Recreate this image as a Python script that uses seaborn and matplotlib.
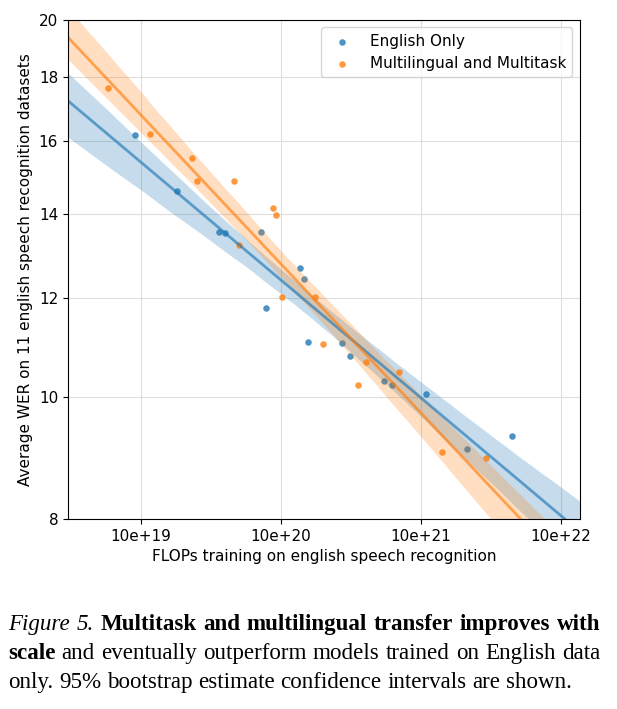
import numpy as np
import pandas as pd
import seaborn as sns
from matplotlib import pyplot as plt

# values (FLOPs, average WER)
flops_en = [9.1e18, 1.81e19, 3.6e19, 3.95e19, 7.2e19, 7.8e19, 1.37e20, 1.46e20,
            1.56e20, 2.73e20, 3.11e20, 5.44e20, 6.2e20, 1.09e21, 2.13e21, 4.47e21]
wer_en = [16.19, 14.62, 13.55, 13.52, 13.55, 11.78, 12.68, 12.43,
          11.07, 11.06, 10.79, 10.31, 10.24, 10.07, 9.10, 9.32]
flops_ml = [5.8e18, 1.16e19, 2.31e19, 2.51e19, 4.61e19, 5.0e19, 8.77e19, 9.2e19,
            1.02e20, 1.75e20, 2.0e20, 3.53e20, 4.03e20, 7.0e20, 1.41e21, 2.9e21]
wer_ml = [17.66, 16.22, 15.52, 14.89, 14.89, 13.23, 14.16, 13.98,
          12.03, 12.03, 11.03, 10.24, 10.67, 10.48, 9.04, 8.94]

xticks = [19, 20, 21, 22]
xticklabels = ['10e+19', '10e+20', '10e+21', '10e+22']
yticks = [8, 10, 12, 14, 16, 18, 20]

df = pd.concat([
    pd.DataFrame({'flops': flops_en, 'wer': wer_en, 'model': 'English Only'}),
    pd.DataFrame({'flops': flops_ml, 'wer': wer_ml, 'model': 'Multilingual and Multitask'}),
])
df['lx'] = np.log10(df['flops'])
df['ly'] = np.log10(df['wer'])

fig = plt.figure(figsize=(6.17, 7.09), dpi=100)
ax = fig.add_axes([0.110, 0.268, 0.830, 0.704])
ax.set_xlim(np.log10(3.0e18), np.log10(1.37e22))
ax.set_ylim(np.log10(8), np.log10(20))

colors = {'English Only': '#1f77b4', 'Multilingual and Multitask': '#ff7f0e'}
np.random.seed(0)
for name, sub in df.groupby('model', sort=False):
    sns.regplot(data=sub, x='lx', y='ly', ax=ax, truncate=False, ci=95, n_boot=1000,
                color=colors[name], label=name,
                scatter_kws={'s': 22, 'alpha': 0.8, 'linewidths': 0},
                line_kws={'alpha': 0.65, 'lw': 2})
# seaborn's default band is quite faint, the reference is stronger
for coll in ax.collections:
    if coll.__class__.__name__ != 'PathCollection':
        coll.set_alpha(0.25)

ax.set_xticks(xticks)
ax.set_xticklabels(xticklabels, fontsize=11)
ax.set_yticks(np.log10(yticks))
ax.set_yticklabels([str(v) for v in yticks], fontsize=11)
ax.grid(True, color='#dddddd', lw=0.8)
ax.set_axisbelow(True)
ax.set_xlabel('FLOPs training on english speech recognition', fontsize=11)
ax.set_ylabel('Average WER on 11 english speech recognition datasets', fontsize=11)
ax.legend(loc='upper right', fontsize=11)

# caption in a serif face, justified word by word
serif = 'Liberation Serif'
fsize = 16.6
lines = [
    ([('Figure', 'italic', 'normal'), ('5.', 'italic', 'normal'), ('Multitask', 'normal', 'bold'),
      ('and', 'normal', 'bold'), ('multilingual', 'normal', 'bold'), ('transfer', 'normal', 'bold'),
      ('improves', 'normal', 'bold'), ('with', 'normal', 'bold')], True),
    ([('scale', 'normal', 'bold')] + [(w, 'normal', 'normal') for w in
      'and eventually outperform models trained on English data'.split()], True),
    ([(w, 'normal', 'normal') for w in
      'only. 95% bootstrap estimate confidence intervals are shown.'.split()], False),
]
x0, x1 = 8 / 617, 600 / 617
ys = [0.1114, 0.0705, 0.0296]
fig.canvas.draw()
renderer = fig.canvas.get_renderer()
space = fig.text(0, 0, 'a a', family=serif, size=fsize)
sp_w = space.get_window_extent(renderer).width
space.set_text('aa')
sp_w = (sp_w - space.get_window_extent(renderer).width) / fig.bbox.width
space.remove()
for (words, justify), yy in zip(lines, ys):
    texts = [fig.text(0, yy, w, family=serif, size=fsize, style=st, weight=wt, va='baseline')
             for w, st, wt in words]
    widths = [t.get_window_extent(renderer).width / fig.bbox.width for t in texts]
    gap = (x1 - x0 - sum(widths)) / (len(texts) - 1) if justify else sp_w
    x = x0
    for t, w in zip(texts, widths):
        t.set_x(x)
        x += w + gap

plt.savefig('out.png', dpi=100)
plt.close()
